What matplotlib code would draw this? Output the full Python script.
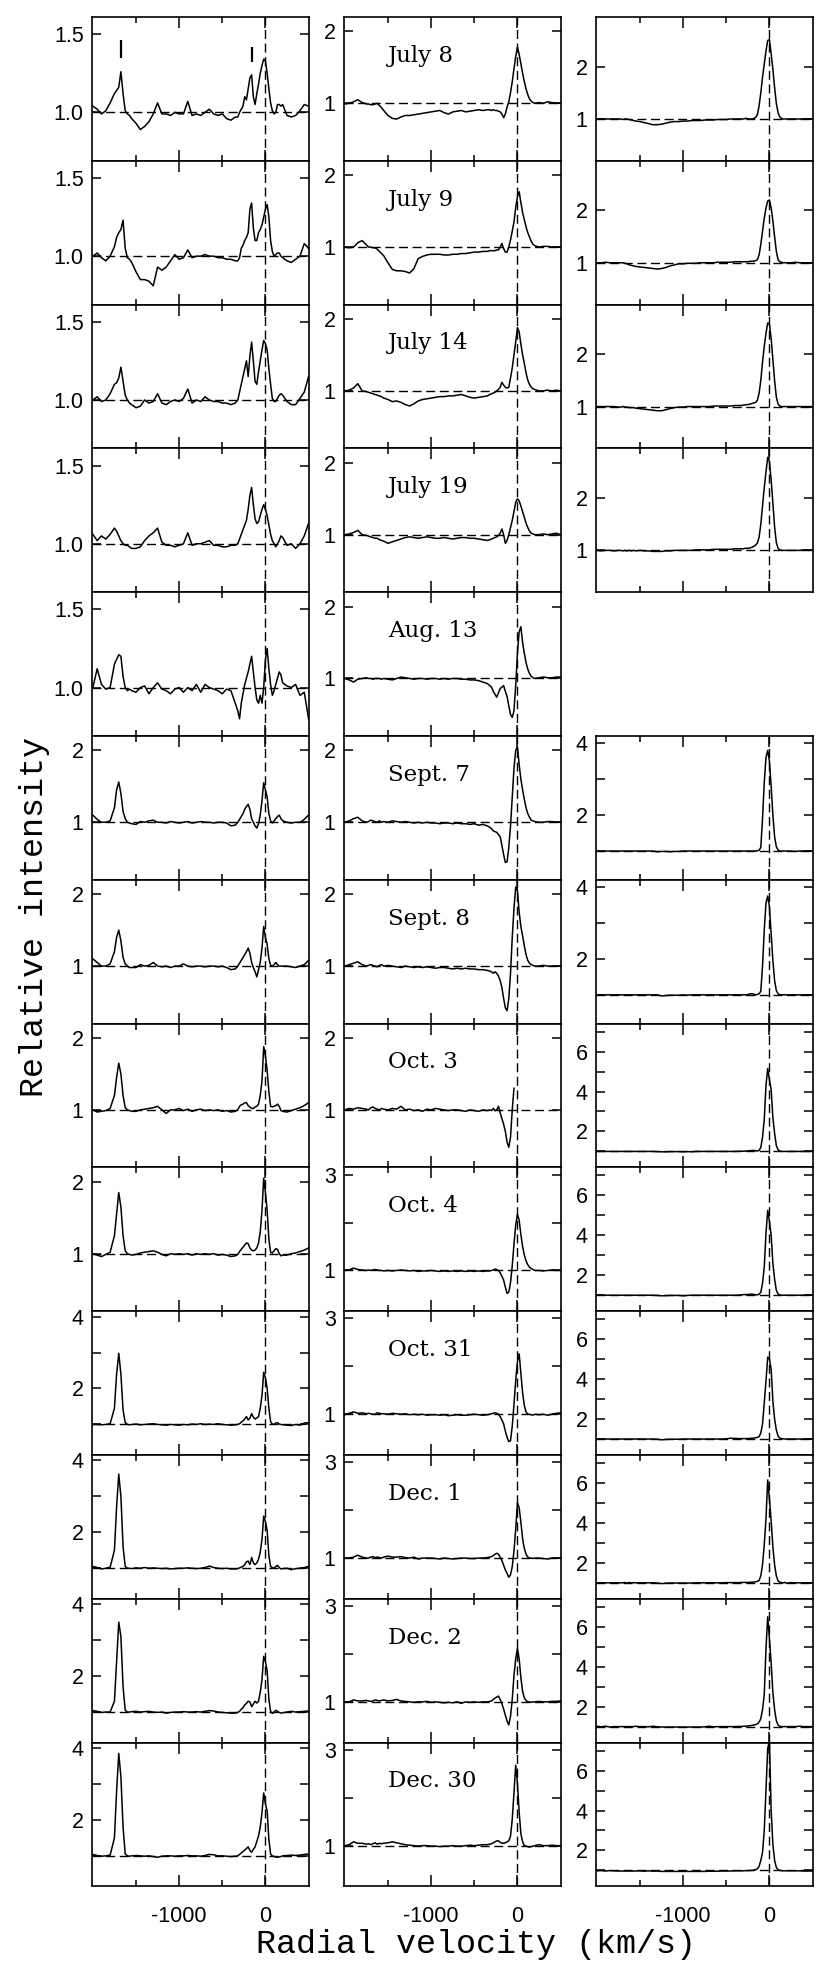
import numpy as np
import matplotlib
matplotlib.use('Agg')
import matplotlib.pyplot as plt
from matplotlib.ticker import FixedLocator

dates = ['July 8', 'July 9', 'July 14', 'July 19', 'Aug. 13', 'Sept. 7', 'Sept. 8',
         'Oct. 3', 'Oct. 4', 'Oct. 31', 'Dec. 1', 'Dec. 2', 'Dec. 30']

# sampling of the spectra (km/s), finer around the emission lines
velocity = np.concatenate([np.arange(-2000, -1749, 50), np.arange(-1725, -1574, 25),
                           np.arange(-1550, -349, 50), np.arange(-320, 181, 20),
                           np.arange(200, 501, 50)])
SEG = [6, 7, 25, 26, 7]

# relative intensity, one string per date
left_flux = [
    "1.04 1.02 0.99 1.01 1.06 1.12 | 1.14 1.16 1.26 1.12 1.01 0.99 0.98 | 0.96 0.93 0.89 0.91 0.94 0.99 1.06 0.99 0.99 0.98 1.00 0.99 0.99 1.07 0.98 0.99 0.98 1.00 1.02 0.99 0.98 0.99 0.96 0.95 0.97 | 0.97 1.00 1.02 1.04 1.10 1.08 1.15 1.22 1.24 1.10 1.05 1.12 1.18 1.25 1.30 1.34 1.33 1.25 1.15 1.06 1.01 0.99 1.00 1.05 1.05 1.04 | 1.05 0.98 0.97 0.98 1.01 1.05 1.04",
    "1.00 1.02 0.99 0.97 1.00 1.06 | 1.12 1.15 1.17 1.23 1.05 0.99 0.98 | 0.96 0.90 0.85 0.85 0.84 0.81 0.93 0.91 0.93 0.97 1.01 0.98 0.99 1.04 0.99 1.00 1.00 1.01 1.00 1.00 0.99 0.99 0.98 0.98 0.97 | 0.97 0.99 1.05 1.07 1.10 1.12 1.15 1.30 1.34 1.18 1.10 1.10 1.15 1.17 1.20 1.25 1.30 1.33 1.25 1.10 1.03 1.00 1.01 1.02 1.02 1.00 | 0.99 0.97 0.96 0.98 1.00 1.08 1.05",
    "1.00 1.02 0.99 1.00 1.04 1.10 | 1.11 1.14 1.21 1.12 1.03 1.00 0.98 | 0.97 0.95 0.96 1.00 0.98 0.99 1.04 0.98 0.97 0.99 1.00 0.99 1.01 1.07 0.98 1.00 0.99 1.02 1.00 0.99 0.99 0.98 0.98 0.97 0.98 | 1.00 1.05 1.10 1.15 1.20 1.25 1.15 1.28 1.37 1.25 1.12 1.10 1.18 1.25 1.32 1.38 1.36 1.32 1.20 1.10 1.01 0.99 0.99 1.01 1.03 1.04 | 1.03 0.99 0.97 0.97 1.01 1.05 1.15",
    "1.06 1.02 1.05 1.03 1.06 1.10 | 1.08 1.05 1.02 1.00 0.99 0.99 0.98 | 0.97 0.97 0.98 1.02 1.05 1.07 1.10 1.01 0.99 0.99 0.98 0.99 1.00 1.07 0.99 1.00 1.00 1.01 1.02 0.99 0.99 0.98 0.98 0.99 0.99 | 1.00 1.03 1.06 1.09 1.12 1.15 1.22 1.31 1.36 1.25 1.16 1.13 1.14 1.18 1.22 1.25 1.22 1.18 1.12 1.06 1.02 1.00 0.98 1.00 1.02 1.05 | 1.04 0.99 1.00 0.97 1.00 1.05 1.13",
    "1.00 1.12 1.02 0.99 1.00 1.15 | 1.18 1.21 1.20 1.07 1.00 0.98 0.99 | 0.98 0.97 1.00 1.01 0.96 1.00 1.03 0.99 0.98 0.96 0.99 1.00 0.97 1.00 0.98 1.02 0.97 1.02 1.00 0.99 0.98 0.96 0.99 0.98 0.90 | 0.85 0.80 0.90 0.96 1.02 1.06 1.10 1.15 1.20 1.10 1.00 0.92 0.90 0.95 0.90 1.00 1.18 1.25 1.12 1.02 0.95 0.98 1.02 1.06 1.10 1.08 | 1.03 1.01 1.00 1.02 0.95 0.97 0.80",
    "1.10 1.04 1.00 1.00 1.02 1.20 | 1.45 1.56 1.40 1.15 1.05 1.00 0.99 | 0.98 0.97 1.01 1.00 1.02 1.03 1.00 1.00 0.99 1.01 1.00 0.99 1.00 1.01 0.99 1.00 1.01 1.00 1.00 0.99 1.00 1.00 0.99 0.95 0.96 | 1.00 1.04 1.08 1.12 1.18 1.22 1.25 1.18 1.05 1.00 0.95 0.92 0.98 1.10 1.30 1.55 1.45 1.35 1.12 1.02 0.99 1.02 1.05 1.08 1.10 1.05 | 1.02 1.00 0.99 1.00 1.00 1.04 1.10",
    "1.10 1.05 1.00 1.00 1.03 1.20 | 1.40 1.50 1.35 1.12 1.03 1.00 0.98 | 0.98 0.98 1.02 1.00 1.01 1.05 1.00 0.99 1.00 0.98 1.00 1.00 1.03 1.00 0.99 1.00 1.00 0.99 1.00 1.00 0.99 1.00 0.98 0.95 0.96 | 1.00 1.04 1.08 1.12 1.16 1.20 1.25 1.18 1.05 0.98 0.92 0.85 0.95 1.05 1.25 1.55 1.40 1.30 1.10 1.01 1.00 1.02 1.05 1.02 1.00 1.00 | 1.00 1.00 0.99 0.98 1.00 1.02 1.08",
    "1.00 0.97 0.98 0.99 1.02 1.20 | 1.45 1.65 1.50 1.20 1.03 1.00 0.99 | 0.98 0.98 1.00 1.01 1.02 1.03 1.05 1.00 0.95 1.00 1.00 1.02 0.99 1.01 0.98 1.00 1.01 0.99 1.00 0.99 1.00 0.98 0.99 0.97 0.98 | 1.00 1.05 1.07 1.08 1.10 1.10 1.06 1.04 1.02 1.02 1.04 1.05 1.08 1.20 1.40 1.88 1.75 1.55 1.25 1.05 1.04 1.05 1.06 1.08 1.05 0.99 | 0.98 0.97 0.99 1.01 1.03 1.06 1.10",
    "1.00 0.98 0.96 0.99 1.02 1.25 | 1.55 1.85 1.65 1.25 1.04 1.00 0.99 | 0.98 0.99 1.01 1.02 1.03 1.04 1.02 0.99 0.97 1.00 0.99 1.00 0.99 1.00 0.98 1.00 0.99 1.00 0.99 1.00 0.98 0.99 0.98 0.96 0.97 | 0.99 1.03 1.06 1.09 1.12 1.15 1.14 1.08 1.05 1.04 1.05 1.08 1.15 1.30 1.60 2.05 1.85 1.60 1.20 1.02 1.01 1.04 1.07 1.06 1.00 0.97 | 0.98 0.98 1.00 1.01 1.03 1.05 1.08",
    "1.00 1.00 0.99 1.00 1.02 1.45 | 2.40 2.98 2.40 1.40 1.05 1.00 0.99 | 1.00 1.01 0.99 1.00 1.01 1.02 1.00 0.99 0.98 1.00 0.99 0.98 1.00 0.99 1.01 1.00 1.02 1.00 1.01 1.00 1.02 1.00 0.99 0.98 0.99 | 1.00 1.02 1.06 1.10 1.15 1.22 1.12 1.18 1.30 1.20 1.15 1.18 1.22 1.45 1.80 2.45 2.30 2.00 1.45 1.08 1.01 1.00 1.04 1.05 1.01 1.00 | 0.99 0.98 0.97 1.00 0.98 1.04 1.05",
    "1.05 1.02 0.98 1.00 1.03 1.50 | 2.70 3.62 3.00 1.60 1.05 1.00 1.00 | 0.99 1.01 1.00 1.02 1.00 1.01 1.00 0.99 1.00 0.98 0.99 1.00 1.00 1.01 1.00 0.99 1.00 1.02 1.06 1.02 1.00 0.99 1.00 0.98 0.98 | 0.99 1.01 1.03 1.05 1.10 1.18 1.20 1.10 1.30 1.15 1.10 1.15 1.25 1.45 1.80 2.45 2.30 2.05 1.35 1.05 1.02 1.00 1.05 1.08 1.02 0.98 | 0.99 1.00 0.96 0.99 1.00 1.02 1.05",
    "1.04 1.02 0.99 1.00 1.00 1.30 | 2.40 3.50 3.10 1.70 1.05 1.00 1.00 | 1.01 1.02 1.00 1.01 1.02 1.00 0.99 1.00 0.97 0.99 1.00 1.00 1.01 1.00 1.00 1.01 1.00 1.02 1.04 1.03 1.00 0.99 0.98 0.97 0.97 | 0.99 1.02 1.08 1.12 1.20 1.24 1.30 1.28 1.15 1.22 1.30 1.25 1.30 1.55 1.90 2.55 2.40 2.15 1.35 1.02 0.96 1.00 1.05 1.02 0.99 0.97 | 0.98 1.00 1.02 1.00 1.01 1.02 1.03",
    "1.04 1.01 0.99 1.00 1.02 1.50 | 2.80 3.85 3.20 1.80 1.05 1.00 0.99 | 1.00 1.01 1.00 0.99 1.00 0.98 0.96 0.99 1.00 1.00 0.99 1.00 1.00 1.01 1.00 1.00 0.99 1.01 1.04 1.03 1.00 1.00 0.99 0.98 0.99 | 1.00 1.04 1.08 1.12 1.16 1.20 1.25 1.15 1.10 1.18 1.25 1.40 1.55 1.80 2.20 2.75 2.45 2.25 1.45 1.05 1.00 0.98 0.97 0.96 0.97 0.98 | 1.00 1.01 1.02 1.01 1.02 1.04 1.05",
]

mid_flux = [
    "0.99 1.00 1.02 1.05 1.01 0.99 | 0.99 0.98 0.98 0.99 1.00 0.97 0.94 | 0.90 0.83 0.79 0.78 0.81 0.83 0.83 0.84 0.85 0.86 0.87 0.88 0.89 0.90 0.87 0.85 0.88 0.89 0.90 0.88 0.89 0.90 0.91 0.90 0.91 | 0.91 0.90 0.91 0.90 0.90 0.89 0.88 0.85 0.80 0.85 0.95 1.02 1.15 1.30 1.48 1.65 1.78 1.68 1.55 1.42 1.30 1.20 1.12 1.06 1.03 1.01 | 1.00 1.01 1.00 1.02 1.01 1.00 1.00",
    "1.00 0.99 1.00 1.06 1.09 1.03 | 1.00 1.00 0.99 0.99 0.97 0.94 0.91 | 0.88 0.78 0.69 0.67 0.67 0.66 0.64 0.70 0.84 0.87 0.89 0.90 0.90 0.90 0.89 0.89 0.90 0.90 0.91 0.91 0.92 0.93 0.93 0.94 0.94 | 0.95 0.95 0.95 0.95 0.96 0.96 1.00 1.05 0.98 0.93 0.93 1.00 1.10 1.22 1.35 1.55 1.70 1.77 1.62 1.48 1.38 1.28 1.20 1.14 1.08 1.04 | 1.02 1.00 1.01 1.01 1.00 1.00 1.00",
    "1.00 1.01 1.04 1.10 1.00 0.99 | 0.98 0.97 0.96 0.95 0.94 0.93 0.92 | 0.90 0.88 0.85 0.86 0.84 0.81 0.79 0.82 0.86 0.88 0.89 0.90 0.91 0.92 0.92 0.93 0.93 0.94 0.95 0.93 0.91 0.90 0.91 0.92 0.93 | 0.95 0.96 0.97 0.98 1.00 1.02 1.05 1.12 1.08 1.05 1.04 1.05 1.18 1.32 1.50 1.68 1.88 1.82 1.65 1.50 1.38 1.25 1.15 1.09 1.05 1.03 | 1.02 1.00 1.00 1.01 1.00 1.01 1.00",
    "1.00 1.01 1.03 1.06 1.00 0.99 | 0.98 0.97 0.96 0.95 0.95 0.93 0.92 | 0.91 0.88 0.90 0.92 0.94 0.96 0.97 0.96 0.95 0.96 0.97 0.96 0.95 0.95 0.96 0.95 0.94 0.95 0.96 0.96 0.95 0.95 0.94 0.93 0.92 | 0.93 0.94 0.95 0.96 0.97 0.99 1.02 1.08 1.00 0.88 0.92 1.00 1.10 1.20 1.32 1.45 1.50 1.47 1.40 1.32 1.24 1.16 1.10 1.05 1.02 1.01 | 1.00 1.00 1.01 1.00 1.01 1.02 1.00",
    "1.00 0.98 0.95 0.99 1.00 1.01 | 1.00 1.00 0.99 1.00 1.00 1.00 0.99 | 1.00 0.99 0.98 1.00 1.02 1.01 1.00 0.99 1.00 1.00 0.99 1.00 1.00 0.99 1.00 0.99 1.00 1.00 0.99 0.99 0.98 0.98 0.97 0.95 0.93 | 0.90 0.88 0.82 0.78 0.74 0.80 0.86 0.88 0.90 0.82 0.75 0.62 0.50 0.46 0.55 0.90 1.35 1.65 1.72 1.50 1.35 1.22 1.13 1.07 1.03 1.01 | 1.00 1.01 1.02 1.01 1.01 1.02 1.02",
    "1.00 1.02 1.05 1.07 1.02 1.00 | 1.01 1.03 1.02 1.01 1.00 1.02 1.00 | 1.01 1.00 1.02 1.01 1.00 1.01 1.00 0.99 1.00 0.99 1.00 0.99 0.99 0.98 0.99 0.99 0.98 0.99 0.98 0.98 0.97 0.98 0.96 0.97 0.95 | 0.93 0.91 0.88 0.87 0.86 0.83 0.80 0.68 0.55 0.44 0.45 0.65 0.95 1.35 1.75 2.00 2.05 1.80 1.60 1.45 1.32 1.20 1.12 1.07 1.03 1.02 | 1.01 1.00 1.00 1.01 1.01 1.00 1.00",
    "1.00 1.02 1.04 1.06 1.02 1.00 | 1.01 1.02 1.01 1.00 0.99 1.01 1.02 | 1.00 1.01 1.00 0.99 0.98 1.00 0.99 0.98 0.99 0.98 0.99 0.98 0.97 0.98 0.98 0.97 0.96 0.97 0.96 0.97 0.96 0.96 0.95 0.95 0.94 | 0.93 0.92 0.90 0.92 0.90 0.86 0.80 0.70 0.55 0.42 0.38 0.55 0.90 1.40 1.80 2.10 2.05 1.75 1.55 1.42 1.28 1.16 1.08 1.04 1.02 1.01 | 1.00 1.00 1.01 1.00 1.00 1.00 1.00",
    "1.00 1.02 1.01 1.03 1.02 1.01 | 1.00 1.03 1.04 1.02 1.01 1.00 1.02 | 1.01 1.00 1.02 1.01 1.05 1.00 1.01 0.99 1.00 0.98 1.01 1.00 1.02 1.01 1.00 0.99 1.00 1.00 0.99 0.98 1.00 0.99 0.98 1.00 0.99 | 1.00 0.99 1.02 0.99 1.00 1.05 0.96 0.88 0.80 0.70 0.55 0.48 0.62 1.00 1.30 nan nan nan nan nan nan nan nan nan nan nan | nan nan nan nan nan nan nan",
    "1.00 1.01 1.05 1.02 1.01 1.00 | 1.01 1.00 1.01 1.02 1.01 1.00 1.00 | 0.99 1.00 0.99 1.00 1.01 1.00 0.99 1.00 0.98 0.99 0.99 1.00 0.99 0.98 0.99 0.98 0.99 0.98 0.99 0.98 0.99 0.98 0.99 0.98 0.99 | 0.99 1.00 1.01 1.03 1.02 1.00 0.95 0.88 0.80 0.65 0.52 0.55 0.75 1.10 1.55 1.95 2.17 2.05 1.75 1.50 1.32 1.20 1.12 1.07 1.04 1.02 | 1.00 1.00 0.99 1.00 1.01 1.00 1.00",
    "0.99 1.02 1.05 1.02 1.03 1.01 | 1.02 1.01 1.00 1.00 1.03 1.02 1.01 | 1.01 1.00 1.02 1.01 1.00 1.01 0.99 1.00 0.99 1.00 0.98 0.99 0.99 0.98 0.99 0.97 0.98 0.99 0.98 0.98 0.99 1.00 0.99 0.98 0.99 | 1.00 1.01 1.02 1.03 1.02 1.00 0.95 0.88 0.80 0.65 0.52 0.43 0.45 0.75 1.20 1.70 2.10 2.26 1.85 1.45 1.18 1.05 1.00 1.00 0.99 0.98 | 1.00 0.99 1.00 0.98 1.00 1.02 1.03",
    "1.00 1.00 1.02 1.06 1.02 1.00 | 1.00 1.02 1.03 1.01 1.02 1.01 1.00 | 1.02 1.04 1.02 1.02 1.03 1.01 1.00 1.02 0.98 1.00 1.00 1.00 0.99 0.98 1.00 0.99 0.98 0.99 1.00 1.00 0.99 0.99 1.00 1.00 1.01 | 1.02 1.03 1.05 1.08 1.10 1.08 1.02 0.95 0.85 0.75 0.68 0.60 0.65 0.82 1.15 1.60 2.15 2.05 1.75 1.40 1.20 1.08 1.02 1.00 1.00 0.99 | 1.00 1.00 0.99 0.98 1.00 1.00 1.00",
    "1.00 1.00 1.04 1.02 1.02 1.03 | 1.02 1.01 1.02 1.04 1.03 1.02 1.03 | 1.04 1.02 1.03 1.05 1.02 1.01 1.00 0.99 1.00 1.00 1.01 0.99 1.00 0.99 0.98 0.99 0.98 1.00 0.97 1.00 0.99 1.00 0.99 1.00 1.00 | 1.01 1.02 1.05 1.08 1.10 1.12 1.05 0.96 0.85 0.72 0.60 0.52 0.70 1.05 1.55 1.90 2.12 1.90 1.50 1.22 1.08 1.03 1.00 1.00 0.99 1.00 | 1.00 1.01 1.00 1.00 1.01 1.01 1.02",
    "1.00 1.02 1.08 1.05 1.05 1.03 | 1.04 1.02 1.04 1.06 1.03 1.05 1.04 | 1.05 1.06 1.08 1.06 1.04 1.02 1.01 1.00 0.99 1.00 1.00 0.99 0.99 0.98 0.99 0.99 1.00 0.99 0.99 1.00 1.01 1.00 1.01 1.02 1.02 | 1.03 1.04 1.06 1.08 1.10 1.10 1.07 1.05 1.05 1.06 1.08 1.10 1.20 1.55 2.10 2.68 2.30 1.70 1.25 1.08 1.00 0.99 0.98 0.97 0.98 0.99 | 1.00 1.02 1.00 1.00 1.01 1.00 1.00",
]

right_flux = [
    "1.00 1.00 1.00 1.00 1.00 1.00 | 1.00 0.99 1.00 1.00 0.99 0.98 0.97 | 0.96 0.95 0.93 0.91 0.89 0.89 0.90 0.92 0.94 0.95 0.95 0.96 0.96 0.97 0.97 0.97 0.98 0.98 0.98 0.99 0.99 0.99 1.00 1.00 1.00 | 1.00 1.00 1.01 1.01 1.00 1.00 1.00 1.01 1.03 1.08 1.25 1.50 1.80 2.05 2.30 2.50 2.52 2.25 1.95 1.60 1.30 1.12 1.04 1.01 1.00 1.00 | 1.00 1.00 1.00 1.00 1.00 1.00 1.00",
    "1.00 1.00 1.01 1.00 1.00 1.00 | 1.00 1.00 0.99 0.98 0.96 0.95 0.94 | 0.93 0.92 0.91 0.90 0.89 0.88 0.89 0.91 0.94 0.96 0.98 0.98 0.99 0.99 0.99 1.00 1.00 1.00 1.00 1.01 1.01 1.01 1.01 1.02 1.02 | 1.02 1.02 1.02 1.02 1.02 1.03 1.03 1.03 1.04 1.06 1.15 1.35 1.60 1.85 2.05 2.18 2.20 2.05 1.80 1.50 1.22 1.06 1.02 1.01 1.00 1.00 | 1.00 1.00 1.01 1.00 1.00 1.00 1.00",
    "1.00 1.00 1.00 1.00 1.00 0.99 | 0.99 1.00 0.99 0.99 0.98 0.98 0.98 | 0.97 0.96 0.95 0.94 0.93 0.92 0.92 0.94 0.96 0.98 0.99 0.99 1.00 1.00 1.00 1.00 1.00 1.00 1.01 1.01 1.01 1.01 1.01 1.02 1.02 | 1.02 1.03 1.03 1.04 1.04 1.05 1.06 1.07 1.08 1.12 1.25 1.50 1.85 2.15 2.40 2.60 2.58 2.30 1.90 1.50 1.18 1.05 1.01 1.00 1.00 1.00 | 1.00 1.00 1.00 1.00 1.00 1.00 1.00",
    "1.00 0.99 1.00 1.00 0.99 1.00 | 1.00 0.99 1.00 0.99 1.00 0.99 1.00 | 0.99 1.00 0.99 0.99 0.98 0.98 0.98 0.99 0.99 1.00 1.00 1.00 1.00 1.00 1.01 1.01 1.01 1.01 1.02 1.02 1.02 1.02 1.02 1.03 1.03 | 1.03 1.03 1.04 1.04 1.04 1.05 1.06 1.08 1.10 1.14 1.25 1.50 1.85 2.20 2.50 2.78 2.70 2.35 1.90 1.45 1.15 1.04 1.01 1.00 1.00 1.00 | 1.00 1.00 1.00 1.00 1.01 1.00 1.00",
    None,
    "1.00 0.99 1.00 1.00 1.00 1.00 | 1.00 1.00 1.00 1.00 1.00 1.00 1.00 | 1.00 1.00 1.00 1.00 1.00 0.98 0.99 0.99 0.98 0.99 0.99 1.00 1.00 1.00 1.00 1.00 1.00 1.00 1.00 1.00 1.00 1.00 1.00 1.00 1.00 | 1.00 1.00 1.00 1.00 1.00 1.00 1.00 1.00 1.00 1.01 1.02 1.10 1.90 2.90 3.60 3.80 3.50 2.80 2.00 1.40 1.12 1.03 1.00 1.00 1.00 1.00 | 1.00 1.00 0.99 1.00 1.00 1.00 1.00",
    "1.00 1.00 1.00 1.00 1.00 1.00 | 1.00 1.00 1.00 1.00 1.00 1.00 1.00 | 1.00 1.00 1.00 1.00 1.00 1.00 0.97 0.98 0.99 0.99 0.99 1.00 0.99 1.00 1.00 1.00 1.00 1.00 1.00 1.00 1.00 1.00 1.00 1.00 1.00 | 1.00 1.00 1.00 1.00 1.02 1.03 1.03 1.02 1.00 1.01 1.03 1.10 1.80 2.80 3.55 3.75 3.45 2.70 1.95 1.40 1.12 1.03 1.00 1.00 1.00 1.00 | 1.00 1.00 1.00 1.00 1.00 1.00 1.00",
    "1.00 1.00 1.00 1.00 1.00 1.00 | 1.00 1.00 1.00 1.00 1.00 1.00 1.00 | 1.00 1.00 1.00 1.00 1.00 0.99 0.98 0.98 0.99 0.99 0.99 0.98 0.99 0.98 1.00 1.00 1.00 1.00 1.00 1.00 1.00 1.00 1.00 1.00 1.01 | 1.01 1.01 1.02 1.02 1.03 1.04 1.05 1.05 1.04 1.02 1.05 1.20 1.70 2.60 4.30 5.15 4.60 4.10 2.70 1.90 1.30 1.08 1.02 1.00 1.00 1.00 | 1.00 1.00 1.00 1.00 1.00 1.00 1.00",
    "1.00 1.00 1.00 1.00 1.00 1.00 | 1.00 1.00 1.00 1.00 1.00 1.00 1.00 | 1.00 1.00 1.00 1.00 1.00 0.99 0.97 0.98 0.99 0.99 0.99 0.97 0.99 1.00 1.00 1.00 1.00 1.00 1.00 1.00 1.00 1.00 1.00 1.00 1.01 | 1.02 1.03 1.03 1.04 1.04 1.05 1.05 1.04 1.02 1.02 1.05 1.15 1.60 2.40 4.10 5.25 4.70 4.00 2.60 1.80 1.25 1.06 1.01 1.00 1.00 1.00 | 1.00 1.00 1.00 1.00 1.00 1.00 1.00",
    "1.00 1.00 1.00 1.00 1.00 1.00 | 1.00 1.00 1.00 1.00 1.00 1.00 1.00 | 1.00 1.00 1.00 1.00 1.00 0.99 0.96 0.98 0.99 0.99 0.99 1.00 1.00 1.00 1.00 1.00 1.00 1.00 1.00 1.00 1.00 1.01 1.04 1.03 1.02 | 1.02 1.02 1.02 1.02 1.03 1.03 1.04 1.05 1.06 1.08 1.12 1.30 1.75 2.80 3.90 5.10 5.00 4.50 2.90 2.00 1.45 1.15 1.05 1.02 1.01 1.00 | 1.00 1.00 1.00 1.00 1.00 1.00 1.00",
    "1.00 1.00 1.00 1.00 1.00 1.00 | 1.00 1.00 1.02 0.98 1.02 0.99 1.01 | 1.00 1.00 1.00 1.00 1.00 0.99 0.96 0.98 0.99 0.99 0.99 0.99 0.99 0.99 1.00 1.00 1.00 1.00 1.00 1.00 1.00 1.01 1.01 1.01 1.01 | 1.02 1.02 1.02 1.02 1.02 1.03 1.03 1.04 1.05 1.07 1.12 1.35 1.90 2.90 4.20 6.15 5.20 4.10 2.80 1.90 1.35 1.10 1.03 1.01 1.00 1.02 | 0.98 1.01 1.00 1.00 1.00 1.00 1.00",
    "1.02 0.99 1.02 0.98 1.00 1.00 | 1.00 1.00 1.00 1.00 1.00 1.00 1.00 | 1.02 1.00 1.00 0.99 1.02 0.99 0.98 0.98 0.98 0.98 0.98 0.98 0.98 0.98 0.98 0.98 0.99 1.02 0.99 1.00 1.00 1.00 1.00 1.00 1.01 | 1.01 1.02 1.02 1.03 1.04 1.05 1.06 1.08 1.10 1.14 1.22 1.40 1.85 2.60 4.90 6.50 5.40 4.20 2.70 1.85 1.30 1.08 1.02 1.00 1.00 1.00 | 1.00 1.00 1.00 1.02 1.00 1.00 1.00",
    "0.98 1.00 0.97 0.99 0.98 0.97 | 0.97 0.97 0.97 0.97 0.97 0.97 0.97 | 0.97 0.98 0.96 0.98 0.96 0.97 0.95 0.95 0.95 0.95 0.95 0.95 0.95 0.95 0.95 0.95 0.95 0.96 0.96 0.96 0.97 0.97 0.97 0.98 0.98 | 0.98 0.98 0.99 0.99 0.99 1.00 1.00 1.02 1.04 1.08 1.20 1.50 1.90 3.00 5.00 7.10 7.50 4.00 2.30 1.50 1.15 1.04 1.00 0.99 0.98 0.98 | 0.98 0.98 0.98 0.98 0.97 0.97 0.97",
]

# identification marks above the lines in the first panel
mark_v = [-1670, -150]
mark_lo = [1.35, 1.32]
mark_hi = [1.46, 1.42]

# y axis of every panel: limits, ticks, tick labels
left_ylim = [(0.69, 1.61)] * 5 + [(0.2, 2.2)] * 4 + [(0.15, 4.15)] * 4
left_yticks = [[1.0, 1.5]] * 5 + [[1, 2]] * 4 + [[1, 2, 3, 4]] * 4
left_ylabels = [['1.0', '1.5']] * 5 + [['1', '2']] * 4 + [['', '2', '', '4']] * 4
mid_ylim = [(0.2, 2.2)] * 8 + [(0.15, 3.15)] * 5
mid_yticks = [[1, 2]] * 8 + [[1, 2, 3]] * 5
mid_ylabels = [['1', '2']] * 8 + [['1', '', '3']] * 5
right_ylim = [(0.2, 2.95)] * 4 + [None] + [(0.2, 4.2)] * 2 + [(0.2, 7.4)] * 6
right_yticks = [[1, 2]] * 4 + [None] + [[1, 2, 3, 4]] * 2 + [[1, 2, 3, 4, 5, 6, 7]] * 6
right_ylabels = [['1', '2']] * 4 + [None] + [['', '2', '', '4']] * 2 + [['', '2', '', '4', '', '6', '']] * 6


def toArr(s):
    vals = []
    for part, n in zip(s.split('|'), SEG):
        t = part.split()
        if len(t) != n:
            raise ValueError(f'{s[:30]}: segment with {len(t)} values, expected {n}')
        vals += t
    return np.array(vals, dtype=float)


plt.rcParams['font.family'] = ['Liberation Sans', 'DejaVu Sans']
W, H = 830, 1962
fig = plt.figure(figsize=(W / 100, H / 100), dpi=100)
col_x = [92, 344, 596]
col_w = 217
top, row_h = 17, 143.8
dash = (0, (6.5, 3.3))


def addPanel(col, row, flux, ylim, yticks, ylabels, last):
    ax = fig.add_axes([col_x[col] / W, 1 - (top + (row + 1) * row_h) / H, col_w / W, row_h / H])
    ax.plot(velocity, toArr(flux), color='k', lw=1.1)
    ax.axhline(1, color='k', lw=1.0, ls=dash)
    ax.axvline(0, color='k', lw=1.0, ls=dash)
    ax.set_xlim(-2010, 505)
    ax.set_ylim(*ylim)
    ax.set_yticks(yticks, ylabels)
    ax.set_xticks([-1000, 0], ['-1000', '0'])
    ax.xaxis.set_minor_locator(FixedLocator([-1500, -500]))
    ax.tick_params(which='both', direction='in', top=True, right=True, width=1.1,
                   labelsize=15.5, pad=6, labelbottom=last)
    ax.tick_params(axis='x', which='major', length=8, pad=14)
    ax.tick_params(axis='x', which='minor', length=4.5)
    ax.tick_params(axis='y', length=6.5)
    for sp in ax.spines.values():
        sp.set_linewidth(1.2)
    return ax


for i in range(13):
    ax = addPanel(0, i, left_flux[i], left_ylim[i], left_yticks[i], left_ylabels[i], i == 12)
    if i == 0:
        ax.vlines(mark_v, mark_lo, mark_hi, color='k', lw=1.6)
    ax = addPanel(1, i, mid_flux[i], mid_ylim[i], mid_yticks[i], mid_ylabels[i], i == 12)
    ax.text(-1500, 0.73, dates[i], transform=ax.get_xaxis_transform(), ha='left', va='center',
            family='DejaVu Serif', size=16.5)
    if right_flux[i] is not None:
        addPanel(2, i, right_flux[i], right_ylim[i], right_yticks[i], right_ylabels[i], i == 12)

fig.text(476 / W, 1 - 1944 / H, 'Radial velocity (km/s)', ha='center', va='center',
         family='Liberation Mono', size=24)
fig.text(35 / W, 1 - 917 / H, 'Relative intensity', ha='center', va='center', rotation=90,
         family='Liberation Mono', size=24)

fig.savefig('out.png', dpi=100)
